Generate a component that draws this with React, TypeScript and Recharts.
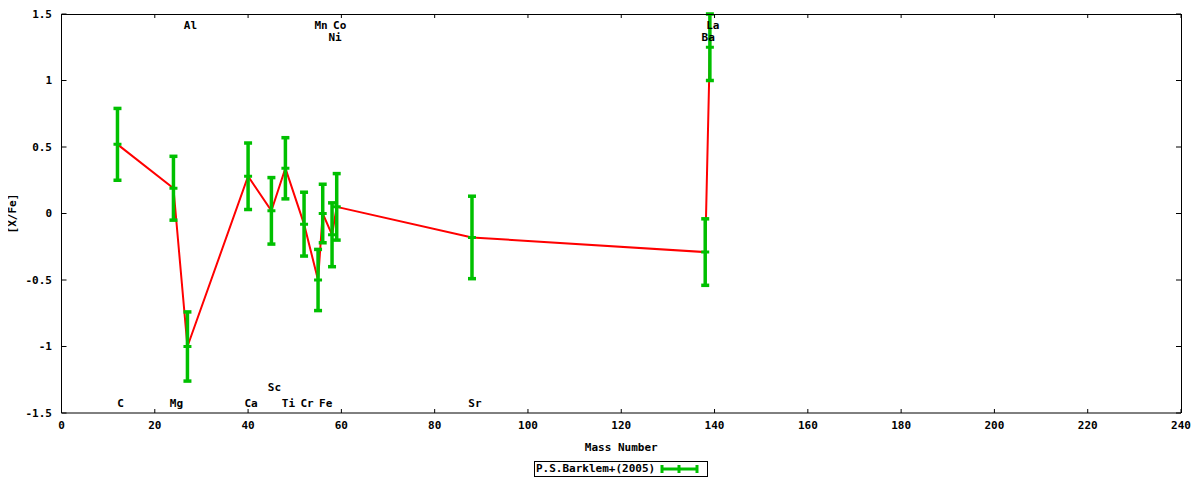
import {
	ComposedChart,
	ErrorBar,
	Line,
	Scatter,
	XAxis,
	YAxis,
} from "recharts";

const elements = ["C", "Mg", "Al", "Ca", "Sc", "Ti", "Cr", "Mn", "Fe", "Ni", "Co", "Sr", "Ba", "La"];
const massNumbers = [12, 24, 27, 40, 45, 48, 52, 55, 56, 58, 59, 88, 138, 139];
const abundances = [0.52, 0.19, -1.0, 0.28, 0.02, 0.34, -0.08, -0.5, 0.0, -0.16, 0.05, -0.18, -0.29, 1.25];
const errors = [0.27, 0.24, 0.26, 0.25, 0.25, 0.23, 0.24, 0.23, 0.22, 0.24, 0.25, 0.31, 0.25, 0.25];

// which row each element name sits in (gnuplot style labels)
const labelRows = ["bottom", "bottom", "top", "bottom", "bottom2", "bottom", "bottom", "top", "bottom", "top2", "top", "bottom", "top2", "top"];
const rowLevel: Record<string, number> = { top: 1.41, top2: 1.32, bottom: -1.425, bottom2: -1.305 };

const xTicks = [0, 20, 40, 60, 80, 100, 120, 140, 160, 180, 200, 220, 240];
const yTicks = [-1.5, -1, -0.5, 0, 0.5, 1, 1.5];
const X_MIN = 0;
const X_MAX = 240;
const Y_MIN = -1.5;
const Y_MAX = 1.5;

const points = massNumbers.map((mass, i) => ({
	mass,
	value: abundances[i],
	err: errors[i],
}));

const labels = elements.map((name, i) => ({
	name,
	mass: massNumbers[i],
	y: rowLevel[labelRows[i]],
}));

const W = 1184;
const H = 472;
const MARGIN = { top: 6, right: 11, bottom: 0, left: 0 };
const Y_AXIS_W = 53.5;
const X_AXIS_H = 67;

// plot box, used only for the top/right frame (mirror of the gnuplot border)
const plotLeft = MARGIN.left + Y_AXIS_W;
const plotTop = MARGIN.top;
const plotRight = W - MARGIN.right;
const plotBottom = H - X_AXIS_H;
const sx = (v: number) => plotLeft + ((v - X_MIN) / (X_MAX - X_MIN)) * (plotRight - plotLeft);
const sy = (v: number) => plotBottom - ((v - Y_MIN) / (Y_MAX - Y_MIN)) * (plotBottom - plotTop);

const FONT = "'DejaVu Sans Mono', monospace";
const GREEN = "#00c000";
const tickStyle = { fontFamily: FONT, fontSize: 11, fontWeight: 700, fill: "#000" };

const CenterTick = (props: any) => (
	<line x1={props.cx - 4} x2={props.cx + 4} y1={props.cy} y2={props.cy} stroke={GREEN} strokeWidth={3} />
);

const ElementLabel = (props: any) => (
	<text
		x={props.cx + 3}
		y={props.cy}
		textAnchor="middle"
		dominantBaseline="central"
		fontFamily={FONT}
		fontSize={11}
		fontWeight={700}
		fill="#000"
	>
		{props.payload.name}
	</text>
);

export default function App() {
	return (
		<div style={{ position: "relative", width: W, height: H }}>
			<style>{".recharts-surface { overflow: visible; }"}</style>
			<ComposedChart width={W} height={H} data={points} margin={MARGIN}>
				<XAxis
					dataKey="mass"
					type="number"
					domain={[X_MIN, X_MAX]}
					ticks={xTicks}
					allowDataOverflow
					height={X_AXIS_H}
					stroke="#000"
					tickSize={-4}
					tickMargin={12}
					tick={tickStyle}
					interval={0}
					label={{
						value: "Mass Number",
						position: "insideTop",
						offset: 30,
						style: { fontFamily: FONT, fontSize: 11, fontWeight: 700, fill: "#000" },
					}}
				/>
				<YAxis
					type="number"
					domain={[Y_MIN, Y_MAX]}
					ticks={yTicks}
					allowDataOverflow
					width={Y_AXIS_W}
					stroke="#000"
					tickSize={-5}
					tickMargin={14.5}
					tick={tickStyle}
					interval={0}
					label={{
						value: "[X/Fe]",
						angle: -90,
						position: "insideLeft",
						offset: 0,
						dx: 4,
						style: { textAnchor: "middle", fontFamily: FONT, fontSize: 11, fontWeight: 700, fill: "#000" },
					}}
				/>
				<Scatter data={labels} dataKey="y" shape={ElementLabel} isAnimationActive={false} />
				<Line
					type="linear"
					dataKey="value"
					stroke="#ff0000"
					strokeWidth={2}
					dot={false}
					activeDot={false}
					isAnimationActive={false}
				/>
				<Scatter data={points} dataKey="value" shape={CenterTick} isAnimationActive={false}>
					<ErrorBar dataKey="err" direction="y" width={4} strokeWidth={3.5} stroke={GREEN} />
				</Scatter>
			</ComposedChart>
			<div
				style={{
					position: "absolute",
					left: plotLeft,
					top: plotTop,
					width: plotRight - plotLeft + 1,
					height: plotBottom - plotTop,
					boxSizing: "border-box",
					borderTop: "1px solid #000",
					borderRight: "1px solid #000",
					pointerEvents: "none",
				}}
			/>
			<svg
				width={W}
				height={H}
				style={{ position: "absolute", left: 0, top: 0, pointerEvents: "none" }}
			>
				{xTicks.map((t) => (
					<line key={`tx${t}`} x1={sx(t)} x2={sx(t)} y1={plotTop} y2={plotTop + 4} stroke="#000" />
				))}
				{yTicks.map((t) => (
					<line key={`ty${t}`} x1={plotRight - 5} x2={plotRight} y1={sy(t)} y2={sy(t)} stroke="#000" />
				))}
			</svg>
			<div
				style={{
					position: "absolute",
					left: 526,
					top: 453,
					width: 172,
					height: 14,
					border: "1px solid #000",
					boxSizing: "content-box",
					display: "flex",
					alignItems: "center",
					fontFamily: FONT,
					fontSize: 11,
					fontWeight: 700,
					lineHeight: "14px",
				}}
			>
				<span style={{ marginLeft: 1 }}>P.S.Barklem+(2005)</span>
				<svg width={40} height={14} style={{ marginLeft: 4 }}>
					<line x1={3} x2={38} y1={7} y2={7} stroke={GREEN} strokeWidth={3} />
					<line x1={3} x2={3} y1={3} y2={11} stroke={GREEN} strokeWidth={3} />
					<line x1={38} x2={38} y1={3} y2={11} stroke={GREEN} strokeWidth={3} />
					<line x1={20} x2={20} y1={3} y2={11} stroke={GREEN} strokeWidth={3} />
				</svg>
			</div>
		</div>
	);
}
